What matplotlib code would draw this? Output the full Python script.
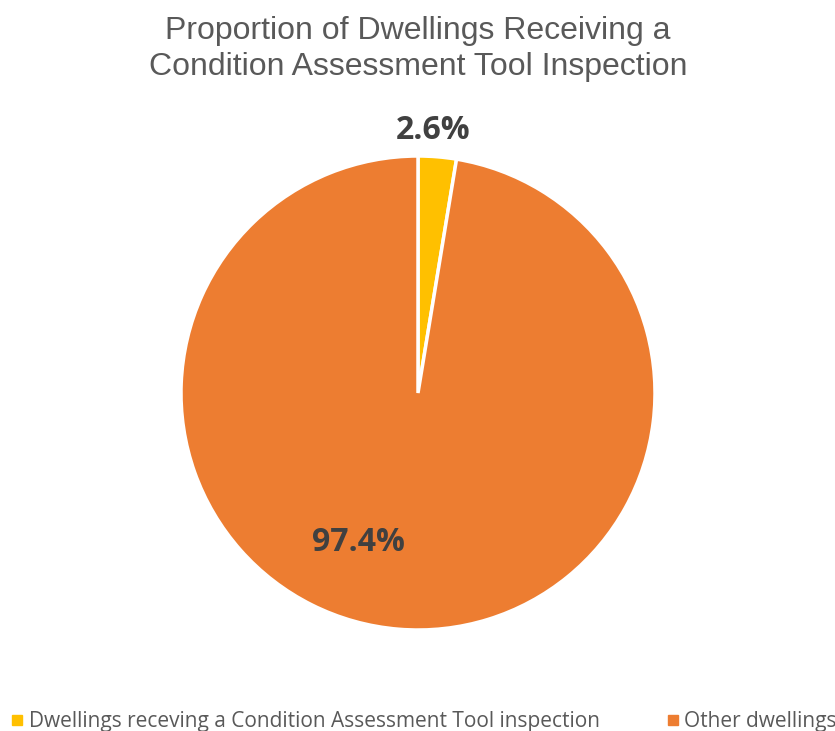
import matplotlib.pyplot as plt
from matplotlib.lines import Line2D

title = "Proportion of Dwellings Receiving a\nCondition Assessment Tool Inspection"
categories = ["Dwellings receving a Condition Assessment Tool inspection", "Other dwellings"]
shares = [2.6, 97.4]
colors = ["#FFC000", "#ED7D31"]

W, H = 835, 731
fig = plt.figure(figsize=(W / 100, H / 100), dpi=100)

# pie axes placed in pixel terms: centre (418, 393), radius ~237
cx, cy, r = 418, 393, 237
ax = fig.add_axes([(cx - r) / W, (H - cy - r) / H, 2 * r / W, 2 * r / H])
wedges, _ = ax.pie(
    shares,
    colors=colors,
    startangle=90,
    counterclock=False,
    radius=1,
    wedgeprops=dict(edgecolor="white", linewidth=2.5),
)
ax.set_xlim(-1, 1)
ax.set_ylim(-1, 1)
ax.set_aspect("equal")
ax.axis("off")

# data labels
label_pos = [(0.065, 1.108), (-0.25, -0.63)]
for v, (x, y) in zip(shares, label_pos):
    ax.text(x, y, f"{v}%", ha="center", va="center", fontsize=23,
            fontweight="bold", color="#404040", family="Open Sans",
            clip_on=False)

fig.text(cx / W, 1 - 49 / H, title, ha="center", va="center",
         fontsize=23, color="#595959", family="Liberation Sans",
         linespacing=1.22)

handles = [Line2D([], [], marker="s", linestyle="", markersize=7,
                  markerfacecolor=c, markeredgecolor=c) for c in colors]
fig.legend(handles, categories, loc="center left",
           bbox_to_anchor=(11 / W, 1 - 722 / H), ncol=2, frameon=False,
           handlelength=0.6, handletextpad=0.25, columnspacing=3.2,
           prop={"family": "Open Sans", "size": 15}, labelcolor="#595959",
           borderaxespad=0, borderpad=0)

fig.savefig("out.png", dpi=100, facecolor="white")
